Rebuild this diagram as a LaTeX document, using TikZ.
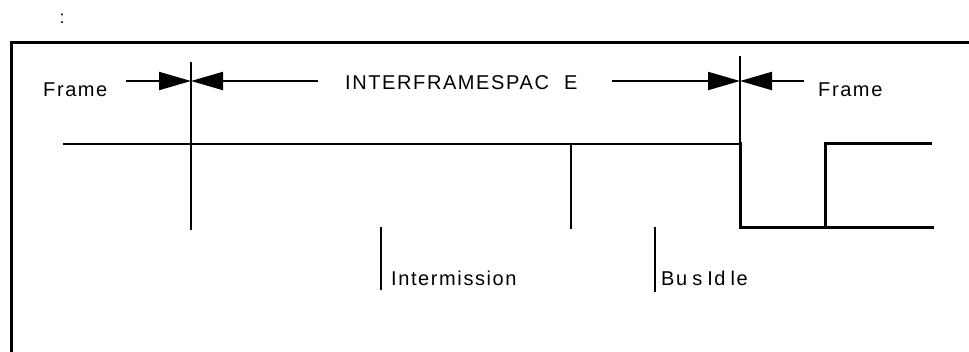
\documentclass[tikz,border=0pt]{standalone}
\usepackage{fontspec}
\setmainfont{Liberation Sans}
\newfontfamily\lbl[LetterSpace=8]{Liberation Sans}
\usetikzlibrary{arrows.meta}
\begin{document}
\begin{tikzpicture}[x=1pt,y=-1pt,
  wire/.style={line width=2pt},
  frameline/.style={line width=3pt},
  dimarrow/.style={line width=2pt,-{Triangle[length=32pt,width=18pt]}},
  txt/.style={inner sep=0pt,anchor=base west,font=\lbl\fontsize{20}{23}\selectfont}]
\useasboundingbox (0,0) rectangle (969,352);
% border
\draw[frameline] (11,352) -- (11,43) -- (969,43);
\node[inner sep=0pt,font=\fontsize{18}{20}\selectfont] (colon) at (62,19) {:};
% named coordinates
\coordinate (la) at (126,81);
\coordinate (m1) at (191,81);
\coordinate (lb) at (318,81);
\coordinate (ra) at (612,81);
\coordinate (m2) at (740,81);
\coordinate (rb) at (804,81);
% labels
\node[txt] (frameL) at (43,96.5) {Frame};
\node[txt] (ifs) at (345,89.5) {INTERFRAMESPAC\hspace*{8pt} E};
\node[txt] (frameR) at (818,96.5) {Frame};
\node[txt] (inter) at (391,285.5) {Intermission};
\node[txt] (busidle) at (661,286) {\spaceskip=5pt Bu s Id le};
% dimension arrows
\draw[dimarrow] (la) -- (m1);
\draw[dimarrow] (lb) -- (m1);
\draw[dimarrow] (ra) -- (m2);
\draw[dimarrow] (rb) -- (m2);
% vertical markers
\draw[wire] (191,62) -- (191,230);
\draw[wire] (740,56) -- (740,144);
% bus line
\draw[wire] (63,144) -- (740,144);
\draw[wire] (571,144) -- (571,229);
\draw[frameline,line cap=rect] (740,144) -- (740,228) -- (932,228);
\draw[frameline] (825,228) -- (825,144) -- (932,144);
% event markers
\draw[wire] (381,227) -- (381,290);
\draw[wire] (655,227) -- (655,292);
\end{tikzpicture}
\end{document}
